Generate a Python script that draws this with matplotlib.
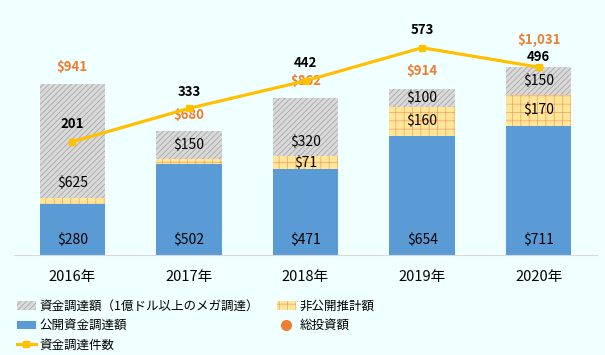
import matplotlib.pyplot as plt
from matplotlib.patches import Patch
from matplotlib.lines import Line2D
import numpy as np

plt.rcParams['font.family'] = ['Noto Sans CJK JP', 'DejaVu Sans']
plt.rcParams['hatch.linewidth'] = 0.5

# data (million USD / number of deals)
years = ['2016年', '2017年', '2018年', '2019年', '2020年']
public = [280, 502, 471, 654, 711]
nonpublic = [36, 28, 71, 160, 170]
mega = [625, 150, 320, 100, 150]
total = [941, 680, 862, 914, 1031]
deals = [201, 333, 442, 573, 496]

# label tweaks (like the hand-moved labels in the original)
mega_label_pos = [0.13, 0.5, 0.25, 0.5, 0.5]
total_offset = [12, 12, 12, 13, 20]
deal_offset = [13, 12, 13, 13, 7]

bg = '#F0FFFF'
blue = '#5B9BD5'
yellow = '#FFE699'
yellow_hatch = '#F5A060'
gray = '#D9D9D9'
gray_hatch = '#A0A0A0'
orange = '#ED7D31'
gold = '#FFC000'

fig = plt.figure(figsize=(6.05, 3.55), dpi=100, facecolor=bg)
ax = fig.add_axes([14 / 605, 1 - 255 / 355, 583 / 605, 250 / 355])
ax.patch.set_visible(False)

x = np.arange(len(years))
w = 0.56
pub = np.array(public)
npub = np.array(nonpublic)
meg = np.array(mega)

ax.bar(x, pub, w, color=blue, lw=0)
ax.bar(x, npub, w, bottom=pub, facecolor=yellow, edgecolor=yellow_hatch, hatch='++', lw=0)
ax.bar(x, meg, w, bottom=pub + npub, facecolor=gray, edgecolor=gray_hatch, hatch='//////', lw=0)
ax.scatter(x, total, s=0, color=orange)

for i in range(len(years)):
    ax.text(x[i], 80, '${:,}'.format(public[i]), ha='center', va='center', fontsize=10)
    if nonpublic[i] >= 50:
        ax.text(x[i], public[i] + nonpublic[i] / 2, '${:,}'.format(nonpublic[i]),
                ha='center', va='center', fontsize=10)
    ax.text(x[i], public[i] + nonpublic[i] + mega[i] * mega_label_pos[i], '${:,}'.format(mega[i]),
            ha='center', va='center', fontsize=10)
    ax.annotate('${:,}'.format(total[i]), (x[i], total[i]), xytext=(0, total_offset[i]),
                textcoords='offset points', ha='center', va='center', fontsize=9.5,
                fontweight='bold', color=orange)

ax.set_xlim(-0.5, len(years) - 0.5)
ax.set_ylim(0, 1374)
ax.set_yticks([])
ax.set_xticks(x)
ax.set_xticklabels(years, fontsize=10.5)
ax.tick_params(axis='x', length=0, pad=11)
for s in ['top', 'left', 'right']:
    ax.spines[s].set_visible(False)
ax.spines['bottom'].set_color('#D9D9D9')

ax2 = ax.twinx()
ax2.patch.set_visible(False)
ax2.plot(x, deals, color=gold, lw=2.3, marker='s', markersize=5)
for i in range(len(years)):
    ax2.annotate(str(deals[i]), (x[i], deals[i]), xytext=(0, deal_offset[i]),
                 textcoords='offset points', ha='center', va='center', fontsize=9.5,
                 fontweight='bold')
ax2.set_ylim(-247, 742)
ax2.set_yticks([])
for s in ax2.spines.values():
    s.set_visible(False)

h1 = [Patch(facecolor=gray, edgecolor=gray_hatch, hatch='//////', lw=0),
      Patch(facecolor=blue, lw=0),
      Line2D([], [], color=gold, lw=2.3, marker='s', markersize=5)]
l1 = ['資金調達額（1億ドル以上のメガ調達）', '公開資金調達額', '資金調達件数']
h2 = [Patch(facecolor=yellow, edgecolor=yellow_hatch, hatch='++', lw=0),
      Line2D([], [], color=orange, ls='', marker='o', markersize=7)]
l2 = ['非公開推計額', '総投資額']

kw = dict(loc='upper left', frameon=False, fontsize=9, handlelength=1.5,
          handletextpad=0.3, labelspacing=0.5, borderpad=0, borderaxespad=0)
fig.legend(h1, l1, bbox_to_anchor=(17 / 605, 1 - 300 / 355), **kw)
fig.legend(h2, l2, bbox_to_anchor=(277 / 605, 1 - 300 / 355), **kw)

fig.savefig('out.png', dpi=100, facecolor=bg)
